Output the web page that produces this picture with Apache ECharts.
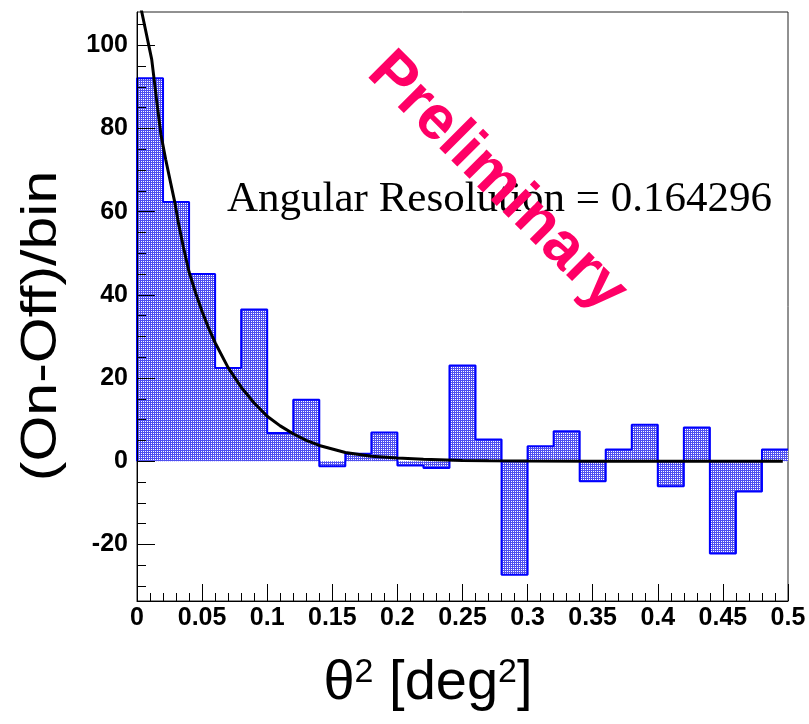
<!DOCTYPE html>
<html>
<head>
<meta charset="utf-8">
<script src="https://cdn.jsdelivr.net/npm/echarts@6/dist/echarts.min.js"></script>
<style>html,body{margin:0;padding:0;background:#fff}#c{width:809px;height:724px}</style>
</head>
<body>
<div id="c"></div>
<script>
// ---- data ----
const binLow = [0, 0.02, 0.04, 0.06, 0.08, 0.10, 0.12, 0.14, 0.16, 0.18, 0.20, 0.22, 0.24, 0.26, 0.28, 0.30, 0.32, 0.34, 0.36, 0.38, 0.40, 0.42, 0.44, 0.46, 0.48];
const binWidth = 0.02;
const counts = [92.1, 62.3, 45.0, 22.4, 36.5, 6.8, 14.8, -1.2, 1.8, 6.9, -1.0, -1.6, 23.0, 5.2, -27.3, 3.6, 7.2, -4.8, 2.8, 8.8, -6.0, 8.1, -22.2, -7.3, 2.8];
const fitX = [0.003, 0.006, 0.0113, 0.015, 0.0184, 0.022, 0.0253, 0.029, 0.032, 0.0356, 0.04, 0.045, 0.05, 0.055, 0.06, 0.07, 0.08, 0.09, 0.10, 0.11, 0.12, 0.13, 0.14, 0.16, 0.18, 0.20, 0.22, 0.25, 0.27, 0.30, 0.35, 0.40, 0.45, 0.496];
const fitY = [109, 104.5, 96.6, 87, 78.5, 72.6, 67.7, 62.3, 57, 51.5, 45.5, 40.5, 36, 32, 28.5, 22.5, 17.8, 14, 10.8, 8.5, 6.6, 5.0, 3.8, 2.1, 1.2, 0.8, 0.5, 0.2, 0.1, 0.05, 0, 0, 0, 0];
const xMajorTicks = [0, 0.05, 0.1, 0.15, 0.2, 0.25, 0.3, 0.35, 0.4, 0.45, 0.5];
const xMinorTicks = [0, 0.01, 0.02, 0.03, 0.04, 0.05, 0.06, 0.07, 0.08, 0.09, 0.1, 0.11, 0.12, 0.13, 0.14, 0.15, 0.16, 0.17, 0.18, 0.19, 0.2, 0.21, 0.22, 0.23, 0.24, 0.25, 0.26, 0.27, 0.28, 0.29, 0.3, 0.31, 0.32, 0.33, 0.34, 0.35, 0.36, 0.37, 0.38, 0.39, 0.4, 0.41, 0.42, 0.43, 0.44, 0.45, 0.46, 0.47, 0.48, 0.49, 0.5];
const yMajorTicks = [-20, 0, 20, 40, 60, 80, 100];
const yMinorTicks = [-30, -25, -20, -15, -10, -5, 0, 5, 10, 15, 20, 25, 30, 35, 40, 45, 50, 55, 60, 65, 70, 75, 80, 85, 90, 95, 100, 105];
const xRange = [0, 0.5];
const yRange = [-33.6, 108];
const yTitle = '(On-Off)/bin';
const resolutionText = 'Angular Resolution = 0.164296';
const watermark = 'Preliminary';

// ---- fill pattern (dotted blue, like ROOT fill style) ----
const pc = document.createElement('canvas');
pc.width = 2; pc.height = 2;
const pctx = pc.getContext('2d');
pctx.fillStyle = '#5050f0';
pctx.fillRect(0, 0, 2, 2);
pctx.fillStyle = '#ffffff';
pctx.fillRect(1, 1, 1, 1);
const fillPattern = { image: pc, repeat: 'repeat' };

const chart = echarts.init(document.getElementById('c'), null, { renderer: 'canvas' });
const tickFont = { fontFamily: 'Liberation Sans, Arial, sans-serif', fontWeight: 'bold', fontSize: 25, color: '#000' };

const histData = binLow.map((x, i) => [x, x + binWidth, counts[i]]);
const stepData = [[binLow[0], 0]].concat(binLow.map((x, i) => [x, counts[i]])).concat([[binLow[binLow.length - 1] + binWidth, counts[counts.length - 1]]]);
const fitData = fitX.map((x, i) => [x, fitY[i]]);

chart.setOption({
  animation: false,
  backgroundColor: '#fff',
  grid: { left: 137, right: 21, top: 12, bottom: 123, show: true, borderColor: '#222', borderWidth: 1, backgroundColor: 'transparent' },
  xAxis: [
    {
      type: 'value', min: xRange[0], max: xRange[1], position: 'bottom', z: 6,
      axisLine: { show: true, onZero: false, lineStyle: { color: '#000', width: 1 } },
      axisTick: { show: true, inside: true, length: 17, customValues: xMajorTicks, lineStyle: { color: '#000', width: 1 } },
      axisLabel: Object.assign({ show: true, margin: 5, customValues: xMajorTicks, formatter: v => String(v) }, tickFont),
      splitLine: { show: false }
    },
    {
      type: 'value', min: xRange[0], max: xRange[1], position: 'bottom', z: 6,
      axisLine: { show: false, onZero: false },
      axisTick: { show: true, inside: true, length: 8, customValues: xMinorTicks, lineStyle: { color: '#000', width: 1 } },
      axisLabel: { show: false },
      splitLine: { show: false }
    }
  ],
  yAxis: [
    {
      type: 'value', min: yRange[0], max: yRange[1], position: 'left', z: 6,
      axisLine: { show: true, onZero: false, lineStyle: { color: '#000', width: 1 } },
      axisTick: { show: true, inside: true, length: 18, customValues: yMajorTicks, lineStyle: { color: '#000', width: 1 } },
      axisLabel: Object.assign({ show: true, margin: 9, customValues: yMajorTicks, formatter: v => String(v) }, tickFont),
      splitLine: { show: false }
    },
    {
      type: 'value', min: yRange[0], max: yRange[1], position: 'left', z: 6,
      axisLine: { show: false, onZero: false },
      axisTick: { show: true, inside: true, length: 9, customValues: yMinorTicks, lineStyle: { color: '#000', width: 1 } },
      axisLabel: { show: false },
      splitLine: { show: false }
    }
  ],
  series: [
    {
      type: 'custom', z: 2, clip: true,
      encode: { x: [0, 1], y: 2 },
      data: histData,
      renderItem: function (params, api) {
        const x0 = api.value(0), x1 = api.value(1), v = api.value(2);
        const p0 = api.coord([x0, 0]);
        const p1 = api.coord([x1, v]);
        return {
          type: 'rect',
          shape: { x: p0[0], y: Math.min(p0[1], p1[1]), width: p1[0] - p0[0], height: Math.abs(p1[1] - p0[1]) },
          style: { fill: fillPattern }
        };
      }
    },
    {
      type: 'line', z: 3, step: 'end', symbol: 'none', data: stepData,
      lineStyle: { color: '#0000ff', width: 2 }
    },
    {
      type: 'line', z: 4, symbol: 'none', data: fitData, clip: true,
      lineStyle: { color: '#000', width: 3 }
    }
  ],
  graphic: [
    {
      type: 'text', x: 42, y: 326, rotation: Math.PI / 2, scaleX: 1.18, z: 10,
      style: { text: yTitle, fontFamily: 'Liberation Sans, Arial, sans-serif', fontSize: 50, fill: '#000', align: 'center', verticalAlign: 'middle' }
    },
    {
      type: 'text', x: 428, y: 684, z: 10,
      style: {
        text: 'θ{s|2} [deg{s|2}]', fontFamily: 'Liberation Sans, Arial, sans-serif', fontSize: 56, fill: '#000', align: 'center', verticalAlign: 'middle',
        rich: { s: { fontSize: 34, verticalAlign: 'top', fontFamily: 'Liberation Sans, Arial, sans-serif', fill: '#000' } }
      }
    },
    {
      type: 'text', x: 227, y: 200, z: 10,
      style: { text: resolutionText, fontFamily: 'Liberation Serif, Times New Roman, serif', fontSize: 43, fill: '#000', align: 'left', verticalAlign: 'middle' }
    },
    {
      type: 'text', x: 497, y: 182, rotation: -Math.PI / 4, z: 11,
      style: { text: watermark, fontFamily: 'Liberation Sans, Arial, sans-serif', fontWeight: 'bold', fontSize: 62, fill: '#ff0066', align: 'center', verticalAlign: 'middle' }
    }
  ]
});
</script>
</body>
</html>
